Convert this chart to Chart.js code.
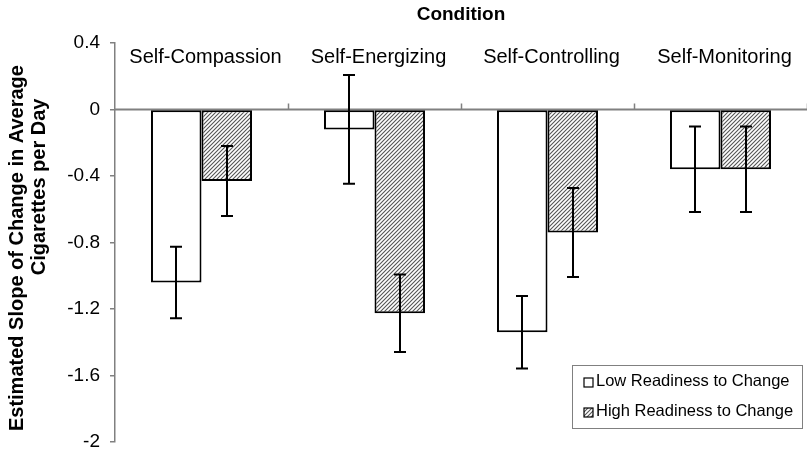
<!DOCTYPE html>
<html><head><meta charset="utf-8">
<script src="https://cdn.jsdelivr.net/npm/chart.js@4"></script>
<style>html,body{margin:0;padding:0;background:#fff}</style>
</head><body>
<canvas id="c" width="807" height="454"></canvas>
<script>
const categories = ['Self-Compassion', 'Self-Energizing', 'Self-Controlling', 'Self-Monitoring'];
const seriesNames = ['Low Readiness to Change', 'High Readiness to Change'];
const lowValues = [-1.04, -0.12, -1.34, -0.36];
const highValues = [-0.43, -1.225, -0.74, -0.36];
const lowErrors = [0.215, 0.327, 0.218, 0.257];
const highErrors = [0.21, 0.233, 0.268, 0.257];
const yTicks = [0.4, 0, -0.4, -0.8, -1.2, -1.6, -2];
const axisTitle = 'Condition';
const yTitle = ['Estimated Slope of Change in Average' + '\u00A0'.repeat(2), '\u00A0'.repeat(20) + 'Cigarettes per Day'];

const FONT = '"Liberation Sans", Arial, sans-serif';

function makeHatch() {
  const t = document.createElement('canvas');
  t.width = 4; t.height = 4;
  const g = t.getContext('2d');
  g.fillStyle = '#ffffff';
  g.fillRect(0, 0, 4, 4);
  g.strokeStyle = '#555555';
  g.lineWidth = 1.1;
  g.beginPath();
  g.moveTo(-1, 5); g.lineTo(5, -1);
  g.moveTo(-1, 1); g.lineTo(1, -1);
  g.moveTo(3, 5); g.lineTo(5, 3);
  g.stroke();
  return g.createPattern(t, 'repeat');
}
const hatch = makeHatch();

const errorSets = [lowErrors, highErrors];

const decorPlugin = {
  id: 'decor',
  beforeDatasetsDraw(chart) {
    const {ctx, chartArea, scales} = chart;
    const y0 = scales.y.getPixelForValue(0);
    ctx.save();
    ctx.strokeStyle = '#808080';
    ctx.lineWidth = 2;
    ctx.beginPath();
    ctx.moveTo(chartArea.left, y0);
    ctx.lineTo(chartArea.right, y0);
    ctx.stroke();
    const xs = scales.x;
    const half = (xs.getPixelForValue(1) - xs.getPixelForValue(0)) / 2;
    ctx.lineWidth = 1.5;
    ctx.beginPath();
    for (let i = 1; i <= categories.length; i++) {
      const bx = Math.round(xs.getPixelForValue(i - 1) + half) + 0.5;
      ctx.moveTo(bx, y0);
      ctx.lineTo(bx, y0 - 6);
    }
    ctx.stroke();
    ctx.restore();
  },
  afterDatasetsDraw(chart) {
    const {ctx, scales} = chart;
    ctx.save();
    ctx.strokeStyle = '#000';
    ctx.lineWidth = 2;
    chart.data.datasets.forEach((ds, i) => {
      const meta = chart.getDatasetMeta(i);
      meta.data.forEach((el, j) => {
        const v = ds.data[j];
        const e = errorSets[i][j];
        const x = Math.round(el.x);
        const yt = scales.y.getPixelForValue(v + e);
        const yb = scales.y.getPixelForValue(v - e);
        ctx.beginPath();
        ctx.moveTo(x, yt); ctx.lineTo(x, yb);
        ctx.moveTo(x - 6, yt); ctx.lineTo(x + 6, yt);
        ctx.moveTo(x - 6, yb); ctx.lineTo(x + 6, yb);
        ctx.stroke();
      });
    });
    ctx.restore();
  },
  afterDraw(chart) {
    const {ctx} = chart;
    const bx = 572.5, by = 365.5, bw = 230, bh = 63;
    ctx.save();
    ctx.fillStyle = '#fff';
    ctx.fillRect(bx, by, bw, bh);
    ctx.strokeStyle = '#808080';
    ctx.lineWidth = 1;
    ctx.strokeRect(bx, by, bw, bh);
    ctx.font = '16.5px ' + FONT;
    ctx.textBaseline = 'middle';
    chart.data.datasets.forEach((ds, i) => {
      const cy = by + 16 + i * 30;
      ctx.fillStyle = ds.backgroundColor;
      ctx.fillRect(584, Math.round(cy - 4), 9, 9);
      ctx.strokeStyle = '#000';
      ctx.lineWidth = 1.2;
      ctx.strokeRect(584, Math.round(cy - 4), 9, 9);
      ctx.fillStyle = '#000';
      ctx.fillText(ds.label, 596, cy);
    });
    ctx.restore();
  }
};

new Chart(document.getElementById('c'), {
  type: 'bar',
  data: {
    labels: categories,
    datasets: [
      { label: seriesNames[0], data: lowValues, backgroundColor: '#ffffff', borderColor: '#000', borderWidth: 2, borderSkipped: false },
      { label: seriesNames[1], data: highValues, backgroundColor: hatch, borderColor: '#000', borderWidth: 2, borderSkipped: false }
    ]
  },
  options: {
    responsive: false,
    animation: false,
    devicePixelRatio: 1,
    layout: { padding: { left: 0, right: -7, top: 0, bottom: 12 } },
    datasets: { bar: { categoryPercentage: 0.584, barPercentage: 1 } },
    plugins: { legend: { display: false }, tooltip: { enabled: false }, title: { display: false } },
    scales: {
      x: {
        type: 'category',
        position: { y: 0.4 },
        grid: { display: false, drawTicks: false, tickLength: 0 },
        border: { display: false },
        ticks: { color: '#000', font: { family: FONT, size: 20 }, padding: 2, labelOffset: 4, maxRotation: 0, autoSkip: false }
      },
      xTop: {
        type: 'category',
        labels: categories,
        position: 'top',
        grid: { display: false },
        border: { display: false },
        ticks: { display: false },
        title: { display: true, text: axisTitle, color: '#000', font: { family: FONT, size: 19, weight: 'bold', lineHeight: 1.2 }, padding: { top: 3, bottom: 0 } },
        afterFit(s) { s.height = 43; }
      },
      y: {
        min: -2, max: 0.4,
        afterBuildTicks(s) { s.ticks = yTicks.map(v => ({ value: v })); },
        grid: { display: true, drawOnChartArea: false, tickLength: 5, color: '#808080', lineWidth: 1.5 },
        border: { display: true, color: '#808080', width: 1.5 },
        ticks: { color: '#000', font: { family: FONT, size: 19 }, padding: 10, callback: v => String(Math.round(v * 10) / 10) },
        title: { display: true, text: yTitle, color: '#000', font: { family: FONT, size: 20, weight: 'bold', lineHeight: 1.1 }, padding: { top: 6, bottom: 4 } },
        afterFit(s) { s.width = 115; s.paddingTop = 0; s.paddingBottom = 0; }
      }
    }
  },
  plugins: [decorPlugin]
});
</script>
</body></html>
